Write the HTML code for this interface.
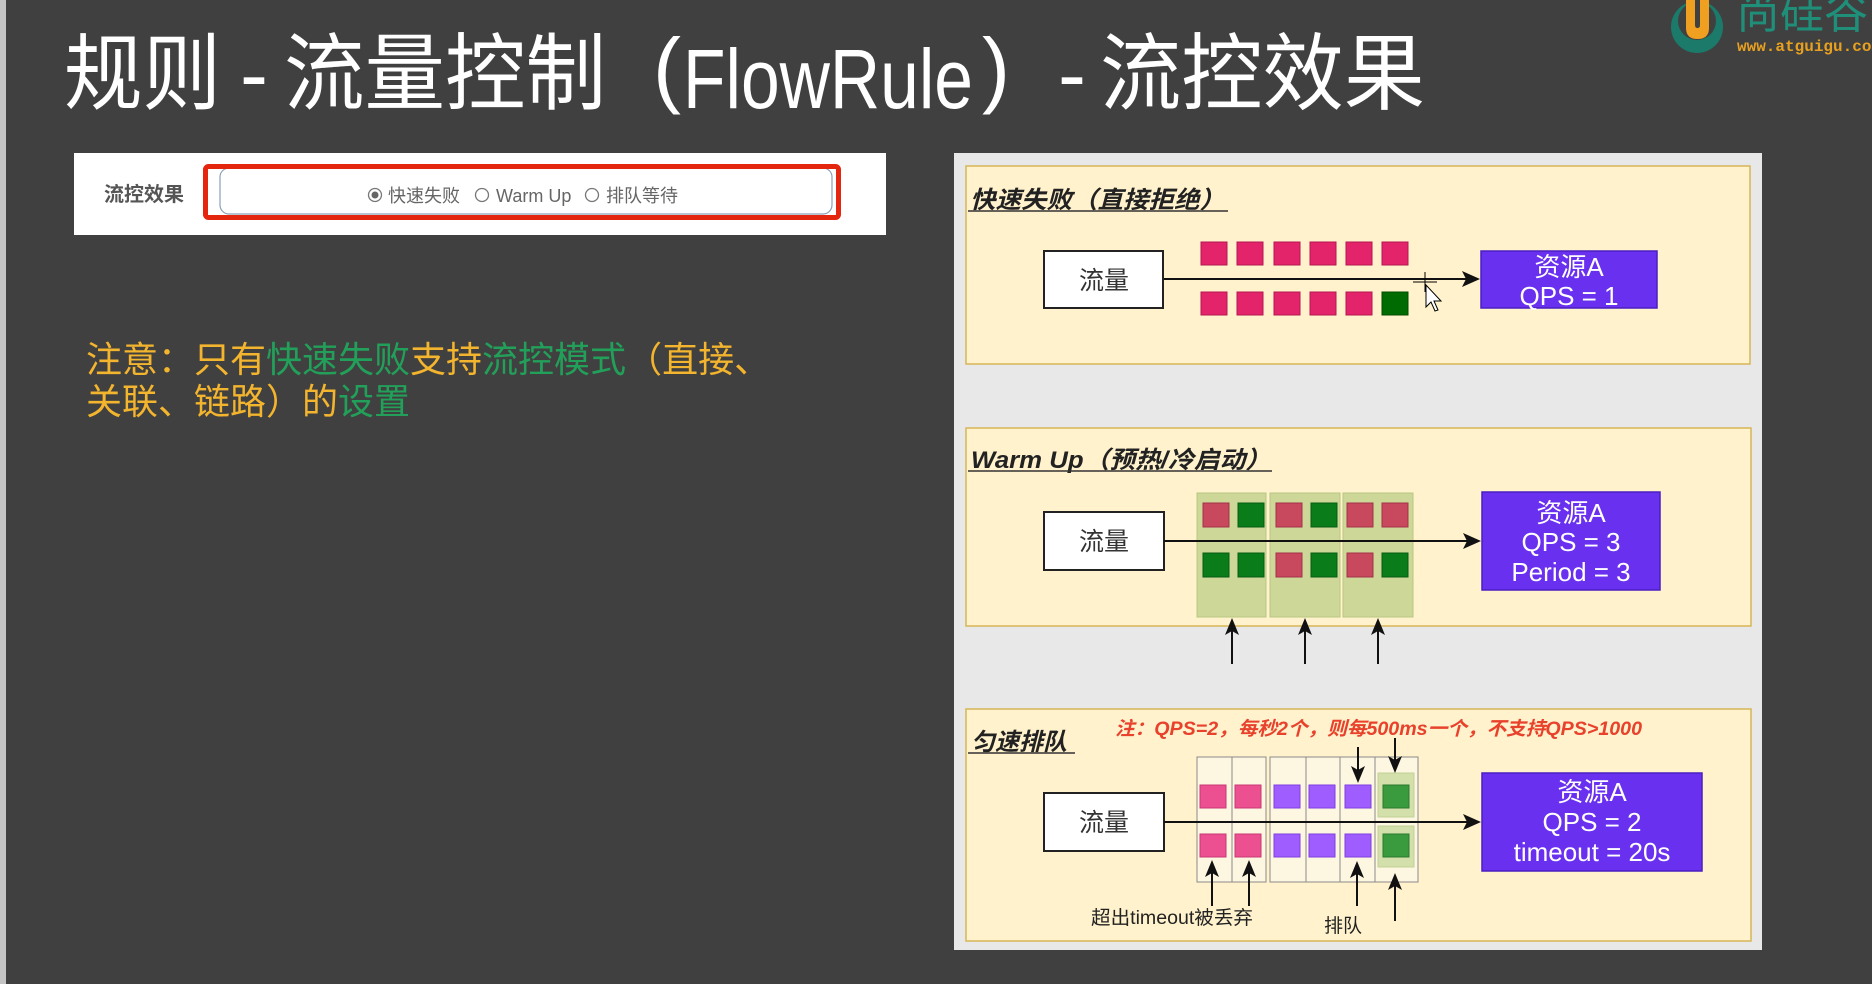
<!DOCTYPE html>
<html><head><meta charset="utf-8"><style>html,body{margin:0;padding:0;background:#404040;}svg{display:block;}</style></head>
<body>
<svg width="1872" height="984" viewBox="0 0 1872 984" xmlns="http://www.w3.org/2000/svg" font-family="'Liberation Sans','Noto Sans CJK SC',sans-serif">
<rect width="1872" height="984" fill="#404040"/>
<rect x="0" y="0" width="6" height="984" fill="#c4c4c4"/>

<!-- Title -->
<g fill="#ffffff" font-size="84">
<text x="64" y="103" textLength="157" lengthAdjust="spacingAndGlyphs">规则</text>
<text x="254" y="103" text-anchor="middle">-</text>
<text x="284" y="103" textLength="322" lengthAdjust="spacingAndGlyphs">流量控制</text>
<text x="667" y="97" text-anchor="middle">(</text>
<text x="683" y="108" textLength="290" lengthAdjust="spacingAndGlyphs">FlowRule</text>
<text x="996" y="97" text-anchor="middle">)</text>
<text x="1072" y="103" text-anchor="middle">-</text>
<text x="1100" y="103" textLength="325" lengthAdjust="spacingAndGlyphs">流控效果</text>
</g>

<!-- Logo -->
<circle cx="1697" cy="27" r="26" fill="#1b7a6a"/>
<circle cx="1697" cy="21" r="19" fill="#404040"/>
<path d="M1686 -4 L1709 -4 L1709 28 Q1709 39 1697.5 39 Q1686 39 1686 28 Z" fill="#f0a020"/>
<path d="M1695 -2 L1700 -2 L1700 25 Q1700 28 1697.5 28 Q1695 28 1695 25 Z" fill="#404040"/>
<text x="1736" y="28" font-size="44" fill="#1f8f7a">尚硅谷</text>
<text x="1737" y="51" font-size="16" font-weight="bold" font-family="'Liberation Mono',monospace" fill="#e8a020">www.atguigu.com</text>

<!-- Input panel -->
<rect x="74" y="153" width="812" height="82" fill="#ffffff"/>
<text x="104" y="201" font-size="20" font-weight="bold" fill="#555">流控效果</text>
<rect x="220" y="168" width="612" height="46" rx="9" fill="#fff" stroke="#8aa0b8" stroke-width="1.2"/>
<rect x="205.5" y="166.5" width="633" height="51" rx="3" fill="none" stroke="#e5260f" stroke-width="5"/>
<circle cx="375" cy="195" r="6.5" fill="#fff" stroke="#777" stroke-width="1.3"/>
<circle cx="375" cy="195" r="3.5" fill="#666"/>
<circle cx="482" cy="195" r="6.5" fill="#fff" stroke="#777" stroke-width="1.3"/>
<circle cx="592" cy="195" r="6.5" fill="#fff" stroke="#777" stroke-width="1.3"/>
<g font-size="18" fill="#666">
<text x="388" y="202">快速失败</text>
<text x="496" y="202">Warm Up</text>
<text x="606" y="202">排队等待</text>
</g>

<!-- Note -->
<g font-size="36">
<text x="86" y="372" fill="#f3b42e">注意：只有<tspan fill="#22a05a">快速失败</tspan>支持<tspan fill="#22a05a">流控模式</tspan>（直接、</text>
<text x="86" y="414" fill="#f3b42e">关联、链路）的<tspan fill="#22a05a">设置</tspan></text>
</g>

<!-- Diagram panel -->
<rect x="954" y="153" width="808" height="797" fill="#e8e8e8"/>

<!-- Box 1 -->
<rect x="966" y="166" width="784" height="198" fill="#fff2cc" stroke="#d6b656" stroke-width="1.5"/>
<text x="970" y="208" font-size="24" font-weight="bold" font-style="italic" fill="#222" textLength="255" lengthAdjust="spacingAndGlyphs">快速失败（直接拒绝）</text>
<line x1="968" y1="211" x2="1228" y2="211" stroke="#333" stroke-width="1.6"/>
<rect x="1044" y="251" width="119" height="57" fill="#fff" stroke="#222" stroke-width="2"/>
<text x="1104" y="289" font-size="25" text-anchor="middle" fill="#333">流量</text>
<g fill="#e4246a" stroke="#b3164f" stroke-width="1">
<rect x="1201" y="242" width="26" height="23"/><rect x="1237" y="242" width="26" height="23"/><rect x="1274" y="242" width="26" height="23"/><rect x="1310" y="242" width="26" height="23"/><rect x="1346" y="242" width="26" height="23"/><rect x="1382" y="242" width="26" height="23"/>
<rect x="1201" y="292" width="26" height="23"/><rect x="1237" y="292" width="26" height="23"/><rect x="1274" y="292" width="26" height="23"/><rect x="1310" y="292" width="26" height="23"/><rect x="1346" y="292" width="26" height="23"/>
</g>
<rect x="1382" y="292" width="26" height="23" fill="#006b00" stroke="#004d00"/>
<line x1="1164" y1="279" x2="1466" y2="279" stroke="#111" stroke-width="2"/>
<polygon points="1480,279 1462,271 1466,279 1462,287" fill="#111"/>
<rect x="1481" y="251" width="176" height="57" fill="#6a30f0" stroke="#4a1fc0" stroke-width="1.5"/>
<g font-size="26" fill="#fff" text-anchor="middle">
<text x="1569" y="276">资源A</text>
<text x="1569" y="305">QPS = 1</text>
</g>
<!-- cursor -->
<g stroke="#000" stroke-width="1">
<line x1="1413" y1="282" x2="1437" y2="282"/><line x1="1425" y1="272" x2="1425" y2="292"/>
<polygon points="1426,285 1426,307 1431,302 1435,311 1438,310 1434,301 1441,301" fill="#fff"/>
</g>

<!-- Box 2 -->
<rect x="966" y="428" width="785" height="198" fill="#fff2cc" stroke="#d6b656" stroke-width="1.5"/>
<text x="971" y="468" font-size="24" font-weight="bold" font-style="italic" fill="#222" textLength="300" lengthAdjust="spacingAndGlyphs">Warm Up（预热/冷启动）</text>
<line x1="968" y1="471" x2="1272" y2="471" stroke="#333" stroke-width="1.6"/>
<g fill="#cdd898" stroke="#b9c682" stroke-width="1">
<rect x="1197" y="493" width="69" height="124"/><rect x="1270" y="493" width="70" height="124"/><rect x="1343" y="493" width="70" height="124"/>
</g>
<rect x="1044" y="512" width="120" height="58" fill="#fff" stroke="#222" stroke-width="2"/>
<text x="1104" y="550" font-size="25" text-anchor="middle" fill="#333">流量</text>
<g stroke-width="1">
<rect x="1203" y="503" width="26" height="24" fill="#c8485e" stroke="#a53048"/>
<rect x="1238" y="503" width="26" height="24" fill="#0a7d1a" stroke="#065c12"/>
<rect x="1276" y="503" width="26" height="24" fill="#c8485e" stroke="#a53048"/>
<rect x="1311" y="503" width="26" height="24" fill="#0a7d1a" stroke="#065c12"/>
<rect x="1347" y="503" width="26" height="24" fill="#c8485e" stroke="#a53048"/>
<rect x="1382" y="503" width="26" height="24" fill="#c8485e" stroke="#a53048"/>
<rect x="1203" y="553" width="26" height="24" fill="#0a7d1a" stroke="#065c12"/>
<rect x="1238" y="553" width="26" height="24" fill="#0a7d1a" stroke="#065c12"/>
<rect x="1276" y="553" width="26" height="24" fill="#c8485e" stroke="#a53048"/>
<rect x="1311" y="553" width="26" height="24" fill="#0a7d1a" stroke="#065c12"/>
<rect x="1347" y="553" width="26" height="24" fill="#c8485e" stroke="#a53048"/>
<rect x="1382" y="553" width="26" height="24" fill="#0a7d1a" stroke="#065c12"/>
</g>
<line x1="1164" y1="541" x2="1467" y2="541" stroke="#111" stroke-width="2"/>
<polygon points="1481,541 1463,533 1467,541 1463,549" fill="#111"/>
<rect x="1482" y="492" width="178" height="98" fill="#6a30f0" stroke="#4a1fc0" stroke-width="1.5"/>
<g font-size="26" fill="#fff" text-anchor="middle">
<text x="1571" y="522">资源A</text>
<text x="1571" y="551">QPS = 3</text>
<text x="1571" y="581">Period = 3</text>
</g>
<g stroke="#111" stroke-width="2">
<line x1="1232" y1="664" x2="1232" y2="628"/><line x1="1305" y1="664" x2="1305" y2="628"/><line x1="1378" y1="664" x2="1378" y2="628"/>
</g>
<g fill="#111">
<polygon points="1232,618 1225,635 1232,631 1239,635"/>
<polygon points="1305,618 1298,635 1305,631 1312,635"/>
<polygon points="1378,618 1371,635 1378,631 1385,635"/>
</g>

<!-- Box 3 -->
<rect x="966" y="709" width="785" height="232" fill="#fff2cc" stroke="#d6b656" stroke-width="1.5"/>
<text x="971" y="750" font-size="24" font-weight="bold" font-style="italic" fill="#222">匀速排队</text>
<line x1="968" y1="753" x2="1075" y2="753" stroke="#333" stroke-width="1.6"/>
<text x="1115" y="735" font-size="19" font-weight="bold" font-style="italic" fill="#e8412c" textLength="527" lengthAdjust="spacingAndGlyphs">注：QPS=2，每秒2个，则每500ms一个，不支持QPS&gt;1000</text>
<g fill="#fdf6e1" stroke="#8a8a8a" stroke-width="1">
<rect x="1197" y="757" width="35" height="125"/><rect x="1232" y="757" width="34" height="125"/>
<rect x="1270" y="757" width="36" height="125"/><rect x="1306" y="757" width="34" height="125"/><rect x="1340" y="757" width="35" height="125"/><rect x="1375" y="757" width="43" height="125"/>
</g>
<g fill="#d3e0ab" stroke="#c2d196" stroke-width="1">
<rect x="1378" y="773" width="36" height="44"/><rect x="1378" y="826" width="36" height="41"/>
</g>
<rect x="1044" y="793" width="120" height="58" fill="#fff" stroke="#222" stroke-width="2"/>
<text x="1104" y="831" font-size="25" text-anchor="middle" fill="#333">流量</text>
<g stroke-width="1">
<rect x="1200" y="785" width="26" height="23" fill="#ec5090" stroke="#c83875"/>
<rect x="1235" y="785" width="26" height="23" fill="#ec5090" stroke="#c83875"/>
<rect x="1274" y="785" width="26" height="23" fill="#9f5cff" stroke="#7f3fe0"/>
<rect x="1309" y="785" width="26" height="23" fill="#9f5cff" stroke="#7f3fe0"/>
<rect x="1345" y="785" width="26" height="23" fill="#9f5cff" stroke="#7f3fe0"/>
<rect x="1383" y="785" width="26" height="23" fill="#3a9a3e" stroke="#2a7a2e"/>
<rect x="1200" y="834" width="26" height="23" fill="#ec5090" stroke="#c83875"/>
<rect x="1235" y="834" width="26" height="23" fill="#ec5090" stroke="#c83875"/>
<rect x="1274" y="834" width="26" height="23" fill="#9f5cff" stroke="#7f3fe0"/>
<rect x="1309" y="834" width="26" height="23" fill="#9f5cff" stroke="#7f3fe0"/>
<rect x="1345" y="834" width="26" height="23" fill="#9f5cff" stroke="#7f3fe0"/>
<rect x="1383" y="834" width="26" height="23" fill="#3a9a3e" stroke="#2a7a2e"/>
</g>
<line x1="1164" y1="822" x2="1467" y2="822" stroke="#111" stroke-width="2"/>
<polygon points="1481,822 1463,814 1467,822 1463,830" fill="#111"/>
<rect x="1482" y="773" width="220" height="98" fill="#6a30f0" stroke="#4a1fc0" stroke-width="1.5"/>
<g font-size="26" fill="#fff" text-anchor="middle">
<text x="1592" y="801">资源A</text>
<text x="1592" y="831">QPS = 2</text>
<text x="1592" y="861">timeout = 20s</text>
</g>
<!-- arrows -->
<g stroke="#111" stroke-width="2">
<line x1="1358" y1="747" x2="1358" y2="772"/>
<line x1="1395" y1="738" x2="1395" y2="762"/>
<line x1="1212" y1="906" x2="1212" y2="871"/>
<line x1="1249" y1="906" x2="1249" y2="871"/>
<line x1="1357" y1="906" x2="1357" y2="872"/>
<line x1="1395" y1="921" x2="1395" y2="884"/>
</g>
<g fill="#111">
<polygon points="1358,783 1351,766 1358,770 1365,766"/>
<polygon points="1395,773 1388,756 1395,760 1402,756"/>
<polygon points="1212,860 1205,877 1212,873 1219,877"/>
<polygon points="1249,860 1242,877 1249,873 1256,877"/>
<polygon points="1357,861 1350,878 1357,874 1364,878"/>
<polygon points="1395,873 1388,890 1395,886 1402,890"/>
</g>
<text x="1091" y="924" font-size="19" fill="#222" textLength="162" lengthAdjust="spacingAndGlyphs">超出timeout被丢弃</text>
<text x="1324" y="932" font-size="19" fill="#222">排队</text>
</svg>
</body></html>
